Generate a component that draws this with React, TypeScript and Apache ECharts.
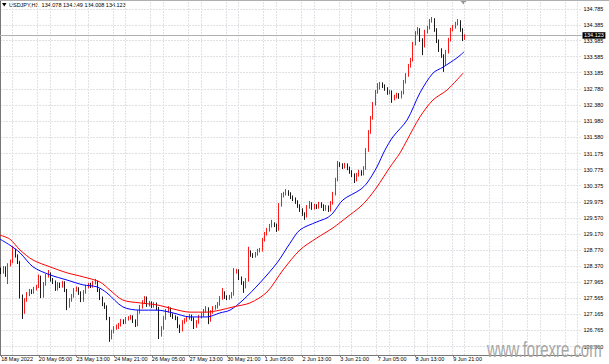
import React, { useEffect, useRef } from "react";
import * as echarts from "echarts";

const symbolTitle = "USDJPY,H1";
const headerOHLC = ["134.078", "134.149", "134.008", "134.123"];
const watermark = "www.forexre.com";

const xTickLabels = [
  "18 May 2022", "20 May 05:00", "23 May 13:00", "24 May 21:00", "26 May 05:00",
  "27 May 13:00", "30 May 21:00", "1 Jun 05:00", "2 Jun 13:00", "3 Jun 21:00",
  "7 Jun 05:00", "8 Jun 13:00", "9 Jun 21:00",
];
const yTickLabels = [
  "134.785", "134.385", "133.985", "133.585", "133.185", "132.780", "132.380", "131.980",
  "131.580", "131.175", "130.775", "130.375", "129.975", "129.570", "129.170", "128.770",
  "128.370", "127.965", "127.565", "127.165", "126.765", "126.360",
];

// 2-hour slots across the whole plot (candles + empty right shift)
const slotCount = 247;
const slotsPerLabel = 16;
const gridSubOffset = 5.3;
const yMin = 126.151;
const yMax = 134.979;
const lastPrice = 134.123;

const opens = [
  128.28,128.22,128.32,128.15,128.40,128.47,128.77,128.62,128.47,127.62,
  127.22,127.52,127.67,127.75,127.72,127.80,127.85,128.10,127.62,127.92,
  128.12,128.17,128.02,127.97,127.80,127.92,127.87,127.95,127.77,127.37,
  127.52,127.62,127.77,127.80,127.70,127.52,127.72,127.85,127.90,127.87,
  127.95,127.97,127.77,127.57,127.42,127.35,127.07,126.58,126.73,126.82,
  126.85,126.90,127.00,126.97,127.05,127.07,127.10,127.00,126.90,127.22,
  127.35,127.47,127.57,127.40,127.45,127.37,127.42,127.32,126.65,126.82,
  127.07,127.25,127.30,127.15,127.10,127.07,126.87,126.78,126.97,127.02,
  127.07,127.12,127.05,126.87,126.97,127.10,127.15,127.25,127.30,127.02,
  127.22,127.32,127.35,127.42,127.57,127.70,127.60,127.57,127.60,127.67,
  128.22,128.25,128.07,127.95,127.85,128.02,128.72,128.65,128.62,128.67,
  128.75,128.77,129.02,129.17,129.27,129.37,129.42,129.39,129.29,129.89,
  130.12,130.17,130.22,130.17,130.09,130.04,129.97,129.87,129.77,129.67,
  129.62,129.84,129.92,129.82,129.87,129.84,129.92,129.87,129.79,129.84,
  129.77,129.94,130.17,130.52,130.91,130.89,130.84,130.89,130.81,130.72,
  130.64,130.52,130.64,130.72,130.67,130.81,131.26,131.71,132.06,132.41,
  132.71,132.81,132.91,132.86,132.79,132.69,132.71,132.54,132.59,132.64,
  132.59,132.69,132.96,133.13,133.36,133.51,133.91,134.18,134.26,134.01,
  133.86,134.21,134.31,134.48,134.51,134.26,133.98,133.76,133.61,133.41,
  133.71,134.01,134.26,134.33,134.41,134.46,134.26,134.03,
];
const closes = [
  128.22,128.32,128.15,128.40,128.47,128.77,128.62,128.47,127.62,127.22,
  127.52,127.67,127.75,127.72,127.80,127.85,128.10,127.62,127.92,128.12,
  128.17,128.02,127.97,127.80,127.92,127.87,127.95,127.77,127.37,127.52,
  127.62,127.77,127.80,127.70,127.52,127.72,127.85,127.90,127.87,127.95,
  127.97,127.77,127.57,127.42,127.35,127.07,126.58,126.73,126.82,126.85,
  126.90,127.00,126.97,127.05,127.07,127.10,127.00,126.90,127.22,127.35,
  127.47,127.57,127.40,127.45,127.37,127.42,127.32,126.65,126.82,127.07,
  127.25,127.30,127.15,127.10,127.07,126.87,126.78,126.97,127.02,127.07,
  127.12,127.05,126.87,126.97,127.10,127.15,127.25,127.30,127.02,127.22,
  127.32,127.35,127.42,127.57,127.70,127.60,127.57,127.60,127.67,128.22,
  128.25,128.07,127.95,127.85,128.02,128.72,128.65,128.62,128.67,128.75,
  128.77,129.02,129.17,129.27,129.37,129.42,129.39,129.29,129.89,130.12,
  130.17,130.22,130.17,130.09,130.04,129.97,129.87,129.77,129.67,129.62,
  129.84,129.92,129.82,129.87,129.84,129.92,129.87,129.79,129.84,129.77,
  129.94,130.17,130.52,130.91,130.89,130.84,130.89,130.81,130.72,130.64,
  130.52,130.64,130.72,130.67,130.81,131.26,131.71,132.06,132.41,132.71,
  132.81,132.91,132.86,132.79,132.69,132.71,132.54,132.59,132.64,132.59,
  132.69,132.96,133.13,133.36,133.51,133.91,134.18,134.26,134.01,133.86,
  134.21,134.31,134.48,134.51,134.26,133.98,133.76,133.61,133.41,133.71,
  134.01,134.26,134.33,134.41,134.46,134.26,134.03,134.123,
];
const highs = [
  128.33,128.37,128.36,128.44,128.53,128.87,128.80,128.66,128.50,127.66,
  127.57,127.72,127.80,127.79,127.85,127.90,128.16,128.13,127.97,128.17,
  128.27,128.21,128.07,128.01,127.97,127.96,128.00,127.99,127.80,127.57,
  127.67,127.82,127.86,127.84,127.74,127.77,127.90,127.95,127.95,128.00,
  128.05,128.01,127.81,127.61,127.46,127.39,127.10,126.78,126.87,126.91,
  126.95,127.05,127.04,127.10,127.12,127.15,127.14,127.04,127.27,127.40,
  127.52,127.62,127.61,127.50,127.49,127.47,127.46,127.35,126.87,127.12,
  127.30,127.37,127.34,127.19,127.14,127.11,126.91,127.02,127.07,127.12,
  127.17,127.16,127.09,127.02,127.15,127.20,127.30,127.37,127.34,127.27,
  127.37,127.40,127.47,127.62,127.82,127.74,127.64,127.65,127.72,128.32,
  128.30,128.29,128.11,127.99,128.07,128.85,128.76,128.69,128.72,128.80,
  128.82,129.07,129.22,129.32,129.42,129.52,129.46,129.43,129.94,130.19,
  130.22,130.29,130.26,130.21,130.13,130.08,130.01,129.91,129.81,129.71,
  129.89,129.99,129.96,129.92,129.91,129.97,129.96,129.91,129.89,129.88,
  129.99,130.22,130.57,130.99,130.96,130.93,130.94,130.93,130.85,130.76,
  130.68,130.69,130.77,130.76,130.86,131.31,131.76,132.11,132.46,132.76,
  132.93,132.96,132.95,132.90,132.83,132.76,132.75,132.64,132.69,132.68,
  132.74,133.01,133.18,133.41,133.56,133.96,134.23,134.33,134.30,134.05,
  134.26,134.36,134.53,134.58,134.55,134.30,134.02,133.80,133.65,133.76,
  134.06,134.31,134.38,134.46,134.53,134.50,134.30,134.149,
];
const lows = [
  128.17,128.18,128.10,127.92,128.36,128.44,128.58,128.42,127.56,127.05,
  127.18,127.48,127.62,127.67,127.68,127.76,127.82,127.57,127.58,127.88,
  128.08,127.98,127.92,127.75,127.76,127.82,127.83,127.72,127.27,127.33,
  127.48,127.58,127.73,127.65,127.47,127.48,127.68,127.81,127.82,127.83,
  127.91,127.72,127.52,127.37,127.30,127.02,126.48,126.54,126.69,126.78,
  126.80,126.86,126.92,126.93,127.01,127.03,126.95,126.85,126.87,127.18,
  127.31,127.43,127.35,127.36,127.32,127.33,127.27,126.55,126.61,126.78,
  127.03,127.21,127.10,127.05,127.02,126.82,126.70,126.74,126.93,126.98,
  127.03,127.00,126.80,126.83,126.93,127.06,127.11,127.21,126.92,126.98,
  127.18,127.28,127.31,127.38,127.53,127.55,127.52,127.53,127.56,127.63,
  128.18,128.02,127.90,127.70,127.81,127.98,128.60,128.57,128.58,128.63,
  128.71,128.73,128.98,129.13,129.23,129.33,129.34,129.22,129.25,129.85,
  130.08,130.13,130.12,130.04,129.99,129.92,129.82,129.72,129.62,129.52,
  129.58,129.80,129.77,129.78,129.79,129.80,129.82,129.74,129.75,129.72,
  129.73,129.90,130.13,130.48,130.84,130.79,130.80,130.76,130.67,130.59,
  130.44,130.48,130.60,130.62,130.63,130.77,131.22,131.67,132.02,132.37,
  132.67,132.77,132.81,132.74,132.64,132.65,132.44,132.50,132.55,132.54,
  132.55,132.65,132.92,133.09,133.32,133.47,133.87,134.14,133.96,133.63,
  133.82,134.17,134.27,134.44,134.21,133.93,133.71,133.56,133.21,133.37,
  133.67,133.97,134.22,134.29,134.37,134.21,133.98,134.008,
];

// moving averages: [slot position, price]
const maBlue = [
  [0, 129.04], [4.2, 128.89], [8.5, 128.70], [14.0, 128.35], [21.2, 128.15], [28.5, 128.02],
  [35.3, 127.90], [41.2, 127.85], [45.4, 127.70], [52.2, 127.35], [59.5, 127.27], [66.7, 127.27],
  [73.5, 127.20], [80.7, 127.10], [87.9, 127.10], [93.4, 127.20], [97.7, 127.27], [103.2, 127.52],
  [110.4, 127.95], [117.7, 128.45], [123.2, 128.94], [127.4, 129.27], [134.6, 129.47], [138.9, 129.57],
  [141.4, 129.69], [145.7, 130.02], [152.9, 130.27], [155.9, 130.44], [160.1, 130.84], [163.5, 131.26],
  [166.9, 131.59], [172.9, 132.01], [178.4, 132.69], [183.9, 133.18], [188.2, 133.33], [194.1, 133.56],
  [197.1, 133.71],
];
const maRed = [
  [0, 129.14], [4.2, 129.04], [8.5, 128.77], [14.0, 128.52], [21.2, 128.35], [28.5, 128.20],
  [35.3, 128.10], [42.5, 127.97], [46.7, 127.77], [52.2, 127.52], [59.5, 127.45], [66.7, 127.40],
  [73.5, 127.30], [80.7, 127.22], [87.9, 127.22], [93.4, 127.27], [99.0, 127.35], [106.2, 127.45],
  [113.4, 127.72], [120.2, 128.27], [127.4, 128.77], [134.6, 129.07], [141.4, 129.32], [147.4, 129.59],
  [152.9, 129.84], [155.9, 130.02], [160.1, 130.34], [165.7, 130.84], [169.9, 131.19], [172.9, 131.51],
  [178.4, 132.09], [183.9, 132.51], [189.9, 132.76], [196.7, 133.18],
];

const FONT = "Liberation Sans";

export default function App() {
  const ref = useRef<HTMLDivElement>(null);
  useEffect(() => {
    if (!ref.current) return;
    const chart = echarts.init(ref.current, undefined, { renderer: "svg" });
    const yTickValues = yTickLabels.map(Number);
    const categories = Array.from({ length: slotCount }, (_, i) => String(i));
    const candles = opens.map((o, i) => [o, closes[i], lows[i], highs[i]]);
    const vLines: number[] = [];
    for (let k = 0; k * slotsPerLabel < slotCount; k++) {
      if (k > 0) vLines.push(k * slotsPerLabel);
      if (k * slotsPerLabel + gridSubOffset < slotCount) vLines.push(k * slotsPerLabel + gridSubOffset);
    }
    const option: any = {
      animation: false,
      backgroundColor: "#ffffff",
      textStyle: { fontFamily: FONT },
      grid: { left: 0, right: 27.5, top: 1, bottom: 9, containLabel: false, outerBoundsMode: "none" },
      xAxis: [
        {
          type: "category",
          data: categories,
          boundaryGap: true,
          axisLine: { show: true, lineStyle: { color: "#777777", width: 1 } },
          axisTick: {
            show: true,
            length: 2,
            alignWithLabel: true,
            interval: (i: number) => i % slotsPerLabel === 0 && i / slotsPerLabel < xTickLabels.length,
            lineStyle: { color: "#777777" },
          },
          axisLabel: {
            interval: (i: number) => i % slotsPerLabel === 0 && i / slotsPerLabel < xTickLabels.length,
            formatter: (_v: string, i: number) => xTickLabels[i / slotsPerLabel] ?? "",
            fontSize: 5.5,
            fontFamily: FONT,
            color: "#000000",
            align: "left",
            margin: 1,
          },
          splitLine: { show: false },
        },
        { type: "value", min: 0, max: slotCount, show: false },
      ],
      yAxis: {
        type: "value",
        position: "right",
        min: yMin,
        max: yMax,
        scale: true,
        axisLine: { show: true, lineStyle: { color: "#777777", width: 1 } },
        axisTick: { show: false },
        axisLabel: {
          customValues: yTickValues,
          formatter: (v: number) => {
            const idx = yTickValues.findIndex((t) => Math.abs(t - v) < 1e-6);
            return idx >= 0 ? yTickLabels[idx] : "";
          },
          fontSize: 5.5,
          fontFamily: FONT,
          color: "#000000",
          margin: 2,
          showMinLabel: true,
          showMaxLabel: true,
        },
        splitLine: { show: false },
      },
      series: [
        {
          name: "grid",
          type: "line",
          xAxisIndex: 1,
          data: [],
          silent: true,
          z: 0,
          markLine: {
            silent: true,
            z: 0,
            symbol: ["none", "none"],
            label: { show: false },
            lineStyle: { color: "#dfe1e4", type: [2, 1], width: 1 },
            emphasis: { disabled: true },
            data: [
              ...yTickValues.map((v) => ({ yAxis: v })),
              ...vLines.map((v) => ({ xAxis: v })),
            ],
          },
        },
        {
          name: symbolTitle,
          type: "candlestick",
          xAxisIndex: 0,
          data: candles,
          barWidth: 1.2,
          z: 2,
          itemStyle: {
            color: "#ff0000",
            color0: "#000000",
            borderColor: "#ff0000",
            borderColor0: "#000000",
            borderWidth: 0.9,
          },
          markLine: {
            silent: true,
            z: 1,
            symbol: ["none", "none"],
            lineStyle: { color: "#b0b0b0", type: "solid", width: 1 },
            label: {
              show: true,
              position: "end",
              distance: 1,
              formatter: () => headerOHLC[3],
              backgroundColor: "#000000",
              color: "#ffffff",
              fontSize: 5.5,
              fontFamily: FONT,
              padding: [0.5, 1.5, 0, 1.5],
            },
            data: [{ yAxis: lastPrice }],
          },
        },
        {
          name: "MA fast",
          type: "line",
          xAxisIndex: 1,
          data: maBlue,
          smooth: 0.3,
          showSymbol: false,
          z: 3,
          lineStyle: { color: "#0000ff", width: 1 },
        },
        {
          name: "MA slow",
          type: "line",
          xAxisIndex: 1,
          data: maRed,
          smooth: 0.3,
          showSymbol: false,
          z: 3,
          lineStyle: { color: "#ff0000", width: 1 },
        },
      ],
      graphic: [
        { type: "line", shape: { x1: 0, y1: 0.5, x2: 609, y2: 0.5 }, style: { stroke: "#b0b0b0", lineWidth: 1 }, silent: true },
        { type: "polygon", shape: { points: [[2, 3], [6.5, 3], [4.25, 6.5]] }, style: { fill: "#000000" }, silent: true },
        {
          type: "text",
          x: 9,
          y: 5,
          style: {
            text: `${symbolTitle}  ${headerOHLC.join(" ")}`,
            fontSize: 5.5,
            fontFamily: FONT,
            fill: "#000000",
            verticalAlign: "middle",
          },
          silent: true,
        },
        { type: "polygon", shape: { points: [[460.5, 1], [466.5, 1], [463.5, 4.5]] }, style: { fill: "#999999" }, silent: true },
        {
          type: "text",
          x: 487,
          y: 338,
          scaleX: 0.68,
          style: {
            text: watermark,
            fontSize: 22,
            fontFamily: FONT,
            fill: "#a6a6a6",
            verticalAlign: "top",
          },
          silent: true,
          z: 10,
        },
      ],
    };
    chart.setOption(option);
    return () => chart.dispose();
  }, []);
  return (
    <div
      ref={ref}
      style={{ position: "absolute", left: 0, top: 0, width: 609, height: 364, background: "#ffffff" }}
    />
  );
}
